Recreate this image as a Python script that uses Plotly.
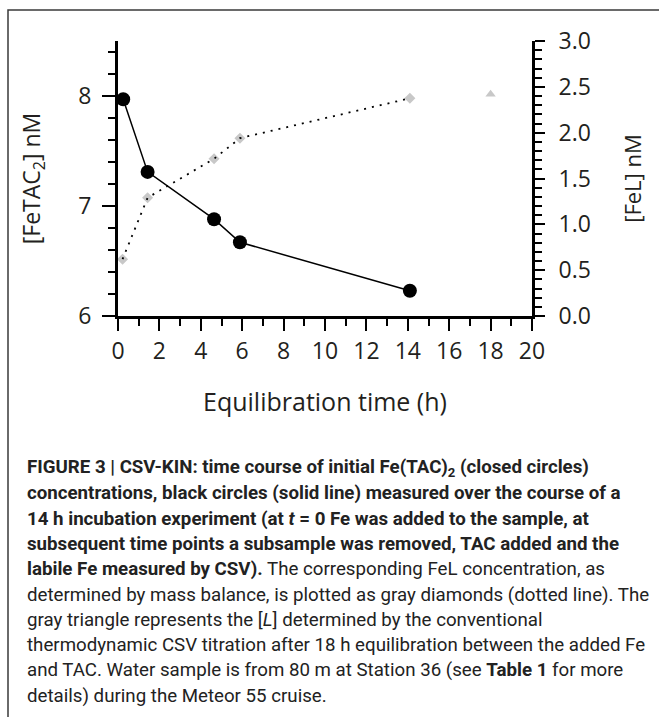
import plotly.graph_objects as go

# Data
time_fetac = [0.25, 1.43, 4.64, 5.89, 14.1]
fetac2_nM = [7.97, 7.31, 6.88, 6.67, 6.23]

time_fel = [0.22, 1.43, 4.64, 5.89, 14.1]
fel_nM = [0.62, 1.29, 1.715, 1.94, 2.375]

time_L = [18.0]
L_nM = [2.42]

x_ticks = list(range(0, 21, 2))
y_ticks_left = [6, 7, 8]
y_ticks_right = [0.0, 0.5, 1.0, 1.5, 2.0, 2.5, 3.0]

caption_lines = [
    "<b>FIGURE 3 | CSV-KIN: time course of initial Fe(TAC)<sub>2</sub> (closed circles)</b>",
    "<b>concentrations, black circles (solid line) measured over the course of a</b>",
    "<b>14 h incubation experiment (at <i>t</i> = 0 Fe was added to the sample, at</b>",
    "<b>subsequent time points a subsample was removed, TAC added and the</b>",
    "<b>labile Fe measured by CSV).</b> The corresponding FeL concentration, as",
    "determined by mass balance, is plotted as gray diamonds (dotted line). The",
    "gray triangle represents the [<i>L</i>] determined by the conventional",
    "thermodynamic CSV titration after 18 h equilibration between the added Fe",
    "and TAC. Water sample is from 80 m at Station 36 (see <b>Table 1</b> for more",
    "details) during the Meteor 55 cruise.",
]

W, H = 659, 717
L, R, T, B = 118, 532, 41, 316  # plot area in pixels

def px_x(p):
    return (p - L) / (R - L)

def px_y(p):
    return (B - p) / (B - T)

ink = "#231f20"
fam = "Open Sans, Noto Sans, sans-serif"
tick_font = dict(family=fam, size=23, color=ink)

fig = go.Figure()

fig.add_trace(go.Scatter(
    x=time_fel, y=fel_nM, yaxis="y2", mode="markers",
    marker=dict(symbol="diamond", size=8.5, color="#c8c8c8"),
    showlegend=False, hoverinfo="x+y",
))
fig.add_trace(go.Scatter(
    x=time_fel, y=fel_nM, yaxis="y2", mode="lines",
    line=dict(color="black", width=1.8, dash="2px,6px"),
    showlegend=False, hoverinfo="skip",
))
fig.add_trace(go.Scatter(
    x=time_L, y=L_nM, yaxis="y2", mode="markers",
    marker=dict(symbol="triangle-up", size=9, color="#c8c8c8"),
    showlegend=False,
))
fig.add_trace(go.Scatter(
    x=time_fetac, y=fetac2_nM, mode="lines+markers",
    line=dict(color="black", width=1.5),
    marker=dict(symbol="circle", size=14, color="black"),
    showlegend=False,
))

axis_common = dict(
    showgrid=False, zeroline=False, showline=True, linecolor="black",
    linewidth=3, ticks="outside", tickcolor="black", tickwidth=2,
    tickfont=tick_font,
)

fig.update_layout(
    width=W, height=H,
    margin=dict(l=L, r=W - R, t=T, b=H - B, pad=0),
    paper_bgcolor="white", plot_bgcolor="white",
    xaxis=dict(
        range=[0, 20], tickvals=x_ticks, ticklen=12,
        minor=dict(dtick=1, ticklen=7, tickwidth=2, tickcolor="black", ticks="outside"),
        title=dict(text="Equilibration time (h)",
                   font=dict(family=fam, size=25, color=ink),
                   standoff=29),
        automargin=False, ticklabelstandoff=0,
        **axis_common,
    ),
    yaxis=dict(
        range=[6, 8.5], tickvals=y_ticks_left, ticklen=13,
        minor=dict(dtick=0.2, ticklen=7, tickwidth=2, tickcolor="black", ticks="outside"),
        title=dict(text="[FeTAC<sub>2</sub>] nM",
                   font=dict(family=fam, size=23, color=ink),
                   standoff=32),
        automargin=False, ticklabelstandoff=6,
        **axis_common,
    ),
    yaxis2=dict(
        range=[0, 3], tickvals=y_ticks_right, tickformat=".1f", ticklen=10,
        overlaying="y", side="right",
        minor=dict(dtick=0.1, ticklen=7, tickwidth=2, tickcolor="black", ticks="outside"),
        title=dict(text="[FeL] nM",
                   font=dict(family=fam, size=22, color=ink),
                   standoff=36),
        automargin=False, ticklabelstandoff=9,
        **axis_common,
    ),
)

# Outer frame (top and left edges visible)
fig.add_shape(type="rect", xref="paper", yref="paper",
              x0=px_x(8), x1=px_x(720), y0=px_y(780), y1=px_y(10),
              line=dict(color="#3a3a3a", width=1.5), fillcolor="rgba(0,0,0,0)", layer="below")

cap_font = "Roboto, sans-serif"
y0, dy = 468, 25.3
for i, line in enumerate(caption_lines):
    fig.add_annotation(
        xref="paper", yref="paper", x=px_x(25), y=px_y(y0 + i * dy),
        xanchor="left", yanchor="middle", text=line, showarrow=False,
        font=dict(family=cap_font, size=18.7, color="#222222"),
    )

fig.write_html("out.html")
